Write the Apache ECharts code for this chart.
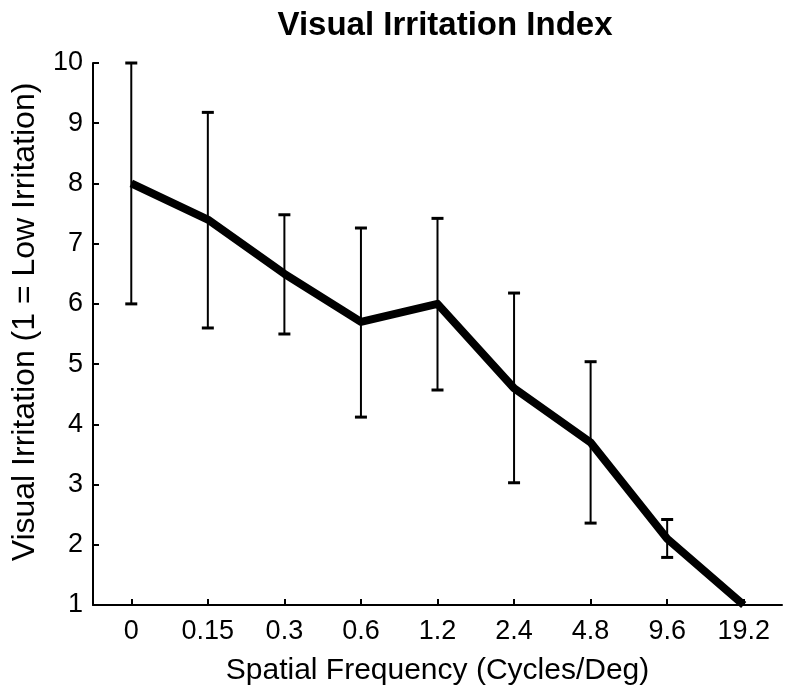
<!DOCTYPE html>
<html>
<head>
<meta charset="utf-8">
<script src="https://cdn.jsdelivr.net/npm/echarts@6/dist/echarts.min.js"></script>
<style>
html,body{margin:0;padding:0;background:#fff;}
#chart{width:791px;height:687px;}
</style>
</head>
<body>
<div id="chart"></div>
<script>
var categories = ['0', '0.15', '0.3', '0.6', '1.2', '2.4', '4.8', '9.6', '19.2'];
var meanValues = [8.0, 7.4, 6.5, 5.7, 6.0, 4.6, 3.7, 2.1, 1.0];
var errLow = [6.0, 5.6, 5.5, 4.12, 4.57, 3.03, 2.36, 1.79, 1.0];
var errHigh = [10.0, 9.18, 7.48, 7.26, 7.42, 6.18, 5.04, 2.42, 1.0];
var yTicks = [1, 2, 3, 4, 5, 6, 7, 8, 9, 10];

var FONT = '"Liberation Sans", Arial, Helvetica, sans-serif';

var errData = categories.map(function (c, i) { return [i, errLow[i], errHigh[i]]; });

var chart = echarts.init(document.getElementById('chart'));
chart.setOption({
  animation: false,
  backgroundColor: '#fff',
  title: {
    text: 'Visual Irritation Index',
    left: 440, top: 4, textAlign: 'center',
    textStyle: { fontFamily: FONT, fontSize: 33, fontWeight: 'bold', color: '#000' }
  },
  grid: { left: 93, right: 9, top: 63, bottom: 82, containLabel: false, outerBoundsMode: 'none' },
  xAxis: {
    type: 'category',
    data: categories,
    boundaryGap: true,
    name: 'Spatial Frequency (Cycles/Deg)',
    nameLocation: 'middle',
    nameGap: 51,
    nameTextStyle: { fontFamily: FONT, fontSize: 30, color: '#000' },
    axisLine: { lineStyle: { color: '#000', width: 2 } },
    axisTick: { show: true, inside: true, alignWithLabel: true, length: 6, lineStyle: { color: '#000', width: 2 } },
    axisLabel: { fontFamily: FONT, fontSize: 27, color: '#000', margin: 13 },
    splitLine: { show: false }
  },
  yAxis: {
    type: 'value',
    min: yTicks[0], max: yTicks[yTicks.length - 1], interval: 1,
    name: 'Visual Irritation (1 = Low Irritation)',
    nameLocation: 'middle',
    nameGap: 52,
    nameTextStyle: { fontFamily: FONT, fontSize: 32, color: '#000', padding: [0, 0, 0, 24] },
    axisLine: { show: true, lineStyle: { color: '#000', width: 2 } },
    axisTick: { show: true, inside: true, length: 6, lineStyle: { color: '#000', width: 2 } },
    axisLabel: { fontFamily: FONT, fontSize: 27, color: '#000', margin: 10 },
    splitLine: { show: false }
  },
  series: [
    {
      type: 'custom',
      data: errData,
      z: 2,
      renderItem: function (params, api) {
        var x = api.value(0);
        var lo = api.coord([x, api.value(1)]);
        var hi = api.coord([x, api.value(2)]);
        if (Math.abs(lo[1] - hi[1]) < 0.5) return null;
        var w = 6;
        var style = { stroke: '#000', lineWidth: 2 };
        var cap = { stroke: '#000', lineWidth: 3 };
        return {
          type: 'group',
          children: [
            { type: 'line', shape: { x1: lo[0], y1: lo[1], x2: hi[0], y2: hi[1] }, style: style },
            { type: 'line', shape: { x1: lo[0] - w, y1: lo[1], x2: lo[0] + w, y2: lo[1] }, style: cap },
            { type: 'line', shape: { x1: hi[0] - w, y1: hi[1], x2: hi[0] + w, y2: hi[1] }, style: cap }
          ]
        };
      }
    },
    {
      type: 'line',
      data: meanValues,
      symbol: 'none',
      z: 3,
      lineStyle: { color: '#000', width: 8, join: 'round' }
    }
  ]
});
</script>
</body>
</html>
